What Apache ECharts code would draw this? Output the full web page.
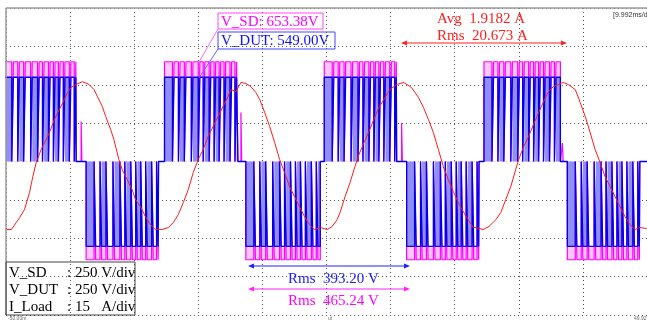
<!DOCTYPE html>
<html><head><meta charset="utf-8">
<script src="https://cdn.jsdelivr.net/npm/echarts@6/dist/echarts.min.js"></script>
<style>html,body{margin:0;padding:0;background:#fff}#c{width:647px;height:322px}</style>
</head><body><div id="c"></div>
<script>
// ---- axes (oscilloscope: 9.992 ms/div, 250 V/div, 15 A/div) ----
const timeMin = -49.96, timeMax = 49.96, timeDiv = 9.992;
const voltMin = -1000, voltMax = 1000, voltDiv = 250;
const ampMin = -60, ampMax = 60, ampDiv = 15;

// ---- I_Load current samples (ms, A) ----
const currentTime = [-50.00,-49.12,-48.35,-47.83,-47.06,-46.29,-45.78,-45.25,-44.48,-43.70,-43.19,-42.42,-41.65,-40.87,-40.36,-39.84,-39.06,-38.04,-37.01,-36.23,-35.72,-34.95,-34.42,-33.65,-33.14,-32.37,-31.86,-31.08,-30.31,-29.79,-29.01,-28.24,-27.46,-26.69,-25.67,-24.63,-23.86,-23.09,-22.31,-21.54,-20.77,-19.99,-19.22,-18.45,-17.67,-16.90,-16.13,-15.35,-14.89,-14.12,-13.34,-12.57,-11.80,-11.02,-10.40,-9.63,-8.86,-8.08,-7.31,-6.54,-5.76,-4.99,-4.21,-3.44,-2.67,-1.89,-0.96,0.12,0.89,1.66,2.12,2.90,3.67,4.44,5.06,5.84,6.61,7.38,8.16,8.93,9.86,10.94,12.02,13.26,14.34,15.12,15.89,16.66,17.44,18.21,18.98,19.76,20.69,21.77,22.85,23.32,24.40,25.33,26.41,27.18,27.95,28.73,29.50,29.96,30.74,31.51,32.28,33.06,33.83,34.60,35.38,36.15,36.92,37.70,38.78,39.56,40.33,41.10,41.87,42.65,43.42,44.20,44.97,45.74,46.52,47.29,48.06,48.84,49.90];
const currentAmps = [-26.6,-26.6,-23.8,-21.9,-18.7,-12.1,-5.9,-0.4,4.7,8.6,11.3,16.4,20.3,24.2,27.0,28.9,30.1,31.2,30.1,28.1,25.4,21.5,17.6,12.5,8.6,0.8,-3.1,-7.0,-10.9,-14.8,-17.6,-21.5,-24.6,-26.6,-26.6,-25.8,-23.8,-20.7,-16.0,-10.9,-4.3,0.8,4.7,9.8,13.7,17.6,21.5,25.4,28.1,27.3,30.9,30.5,29.3,27.0,24.2,19.1,13.7,7.4,0.8,-4.3,-9.8,-13.7,-17.6,-21.5,-24.6,-26.6,-25.8,-26.6,-25.4,-22.7,-19.9,-13.7,-8.2,-2.0,2.7,7.4,11.7,16.4,21.1,24.2,28.1,30.1,30.9,28.9,25.0,21.1,16.4,11.3,4.7,-2.0,-7.0,-11.7,-16.8,-21.5,-25.8,-25.8,-26.6,-25.4,-22.7,-19.9,-14.8,-9.8,-3.1,0.8,5.9,9.8,14.5,19.1,23.4,27.3,29.3,30.1,30.9,30.1,28.1,23.0,17.6,11.3,4.7,-0.4,-5.9,-9.8,-13.7,-17.6,-21.5,-24.6,-26.6,-25.8,-26.2];

const posBlockStart = [-50.30, -25.25, -0.35, 24.55];
const posBlockEnd   = [-39.02, -13.81, 10.94, 36.46];
const negBlockStart = [-37.47, -12.57, 12.49, 37.54];
const negBlockEnd   = [-26.18, -0.97, 23.78, 48.84];
// switching notches inside one block (ms from block start)
const gapOffsets = [1.24, 2.17, 3.09, 4.18, 5.26, 6.03, 6.96, 7.73, 8.51, 9.28, 10.21, 10.98];
const gapWidth = 0.25;
// levels (V)
const vDutPos = 549, vDutNeg = -553;
const vSdPos = 650, vSdNeg = -640;
// lone V_SD spikes after the positive blocks
const spikeTime = [-38.25, -13.34, 11.71, 36.77];
const spikeVolt = [260, 320, 250, 120];
const spikeWidth = 0.12;

function blockList(pv, nv) {
  const l = [];
  for (let i = 0; i < posBlockStart.length; i++) l.push([posBlockStart[i], posBlockEnd[i], pv]);
  for (let i = 0; i < negBlockStart.length; i++) l.push([negBlockStart[i], negBlockEnd[i], nv]);
  return l.sort((a, b) => a[0] - b[0]);
}
function onIntervals(s, e) {
  const out = []; let cur = s;
  for (const g of gapOffsets) {
    const gs = s + g;
    if (gs + gapWidth >= e) break;
    out.push([cur, gs]); cur = gs + gapWidth;
  }
  out.push([cur, e]);
  return out;
}
function pulseTrace(pv, nv, opts) {
  const items = [];
  blockList(pv, nv).forEach(([s, e, v]) => onIntervals(s, e).forEach((iv, k) => items.push([iv[0], iv[1], v, k])));
  if (opts.spikes) spikeTime.forEach((t, i) => items.push([t, t + spikeWidth, spikeVolt[i], 0]));
  items.sort((a, b) => a[0] - b[0]);
  const pts = [[timeMin - 2, 0]];
  items.forEach(([a, b, v, k]) => {
    if (opts.filter && !opts.filter(k)) return;
    pts.push([a, 0], [a, v], [b, v], [b, 0]);
  });
  pts.push([timeMax + 2, 0]);
  return pts;
}
const currentData = currentTime.map((t, i) => [t, currentAmps[i]]);

const chart = echarts.init(document.getElementById('c'), null, {renderer: 'canvas'});
const serif = '"Liberation Serif","Times New Roman",serif';
const dotted = {color: '#555', width: 1, type: [1, 3]};
function txt(x, y, s, color, size, extra) {
  return Object.assign({type: 'text', x: x, y: y, z: 100,
    style: {text: s, fill: color, font: (size || 15) + 'px ' + serif, textVerticalAlign: 'middle', verticalAlign: 'middle'}}, extra || {});
}
function arrow(x1, x2, y, color) {
  return [
    {type: 'line', z: 100, shape: {x1: x1 + 4, y1: y, x2: x2 - 4, y2: y}, style: {stroke: color, lineWidth: 1}},
    {type: 'polygon', z: 100, shape: {points: [[x1, y], [x1 + 6, y - 2.5], [x1 + 6, y + 2.5]]}, style: {fill: color}},
    {type: 'polygon', z: 100, shape: {points: [[x2, y], [x2 - 6, y - 2.5], [x2 - 6, y + 2.5]]}, style: {fill: color}}
  ];
}
const graphics = [
  {type: 'line', z: 100, shape: {x1: 6, y1: 8, x2: 647, y2: 8}, style: {stroke: '#9a9a9a', lineWidth: 1.5}},
  {type: 'line', z: 100, shape: {x1: 6, y1: 8, x2: 6, y2: 315}, style: {stroke: '#9a9a9a', lineWidth: 1.5}},
  // cursor readouts
  {type: 'rect', z: 100, shape: {x: 218, y: 13, width: 105, height: 16}, style: {fill: 'none', stroke: '#ff44ff', lineWidth: 1}},
  {type: 'rect', z: 100, shape: {x: 218, y: 32, width: 117, height: 17}, style: {fill: 'none', stroke: '#4444ff', lineWidth: 1}},
  {type: 'line', z: 100, shape: {x1: 218, y1: 29, x2: 199, y2: 62}, style: {stroke: '#ff66ff', lineWidth: 1}},
  {type: 'line', z: 100, shape: {x1: 218, y1: 49, x2: 199, y2: 78}, style: {stroke: '#6666ff', lineWidth: 1}},
  txt(221, 22, 'V_SD: 653.38V', '#ff00ff'),
  txt(221, 41, 'V_DUT: 549.00V', '#1010ff'),
  txt(437, 19, 'Avg  1.9182 A', '#ff2020'),
  txt(437, 36, 'Rms  20.673 A', '#ff2020'),
  ...arrow(401, 567, 43, '#ff2020'),
  ...arrow(248, 410, 266, '#2020ff'),
  txt(288, 279, 'Rms  393.20 V', '#2020ff'),
  ...arrow(248, 410, 289, '#ff22ff'),
  txt(288, 301, 'Rms  465.24 V', '#ff00ff'),
  // scale box
  {type: 'rect', z: 100, shape: {x: 6, y: 262, width: 129, height: 53}, style: {fill: 'none', stroke: '#444', lineWidth: 1}},
  txt(9, 273, 'V_SD', '#000'), txt(67, 273, ': 250 V/div', '#000'),
  txt(9, 290, 'V_DUT', '#000'), txt(67, 290, ': 250 V/div', '#000'),
  txt(9, 307, 'I_Load', '#000'), txt(67, 307, ': 15   A/div', '#000'),
  {type: 'text', x: 613, y: 15, z: 100, style: {text: '[9.992ms/div', fill: '#333', font: '7px "Liberation Sans",sans-serif', textVerticalAlign: 'middle', verticalAlign: 'middle'}},
  {type: 'text', x: 8, y: 319, z: 100, style: {text: '-50.00m', fill: '#666', font: '5px "Liberation Sans",sans-serif', textVerticalAlign: 'middle', verticalAlign: 'middle'}},
  {type: 'text', x: 328, y: 319, z: 100, style: {text: 'ul', fill: '#666', font: '5px "Liberation Sans",sans-serif', textVerticalAlign: 'middle', verticalAlign: 'middle'}},
  {type: 'text', x: 634, y: 319, z: 100, style: {text: '49.92', fill: '#666', font: '5px "Liberation Sans",sans-serif', textVerticalAlign: 'middle', verticalAlign: 'middle'}}
];

chart.setOption({
  animation: false,
  backgroundColor: '#fff',
  grid: {left: 6, top: 8, right: -5, bottom: 7, containLabel: false},
  xAxis: {type: 'value', min: timeMin, max: timeMax, interval: timeDiv,
    axisLabel: {show: false}, axisTick: {show: false}, axisLine: {show: false},
    splitLine: {show: true, lineStyle: dotted}},
  yAxis: [
    {type: 'value', min: voltMin, max: voltMax, interval: voltDiv,
      axisLabel: {show: false}, axisTick: {show: false}, axisLine: {show: false},
      splitLine: {show: true, lineStyle: dotted}},
    {type: 'value', min: ampMin, max: ampMax, interval: ampDiv, show: false,
      splitLine: {show: false}}
  ],
  series: [
    {name: 'V_SD', type: 'line', data: pulseTrace(vSdPos, vSdNeg, {spikes: true}), showSymbol: false, symbol: 'none',
      lineStyle: {color: '#ff00ff', width: 1.2}, areaStyle: {color: '#ffc8ff', opacity: 1}},
    {name: 'mask', type: 'line', data: pulseTrace(vDutPos, vDutNeg, {}), showSymbol: false, symbol: 'none',
      lineStyle: {width: 0, opacity: 0}, areaStyle: {color: '#ffffff', opacity: 1}},
    {name: 'V_DUT fill', type: 'line', data: pulseTrace(vDutPos, vDutNeg, {filter: k => k % 2 === 0}), showSymbol: false, symbol: 'none',
      lineStyle: {width: 0, opacity: 0}, areaStyle: {color: '#8f8ff5', opacity: 1}},
    {name: 'V_DUT', type: 'line', data: pulseTrace(vDutPos, vDutNeg, {}), showSymbol: false, symbol: 'none',
      lineStyle: {color: '#0000f0', width: 1.3}},
    {name: 'I_Load', type: 'line', yAxisIndex: 1, data: currentData, showSymbol: false, symbol: 'none',
      lineStyle: {color: '#ff1a1a', width: 1}}
  ],
  graphic: graphics
});
</script></body></html>
